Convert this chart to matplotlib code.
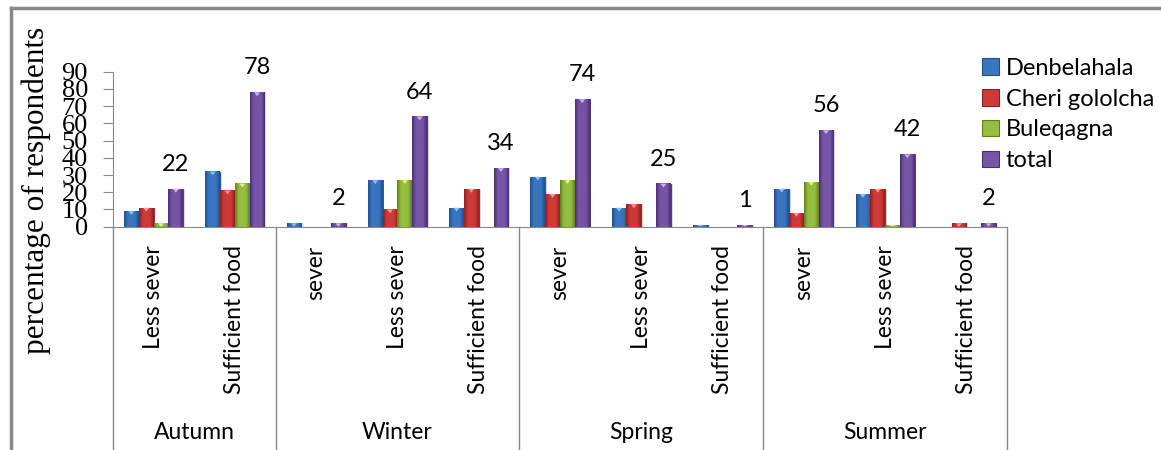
import numpy as np
import matplotlib
matplotlib.use("Agg")
import matplotlib.pyplot as plt
from matplotlib.colors import LinearSegmentedColormap
from matplotlib.patches import Polygon, Rectangle
from matplotlib.lines import Line2D

# ── Data ─────────────────────────────────────────────────────────────────────
seasons = ["Autumn", "Winter", "Spring", "Summer"]
season_sizes = [2, 3, 3, 3]
levels = ["Less sever", "Sufficient food",
          "sever", "Less sever", "Sufficient food",
          "sever", "Less sever", "Sufficient food",
          "sever", "Less sever", "Sufficient food"]

series_names = ["Denbelahala", "Cheri gololcha", "Buleqagna", "total"]
denbelahala = [9, 32, 2, 27, 11, 29, 11, 1, 22, 19, 0]
cheri_gololcha = [11, 21, 0, 10, 22, 19, 13, 0, 8, 22, 2]
buleqagna = [2, 25, 0, 27, 0, 27, 0, 0, 26, 1, 0]
total = [22, 78, 2, 64, 34, 74, 25, 1, 56, 42, 2]

# (dark edge, body, highlight)
palette = [
    ("#1d4f8f", "#3a75c0", "#8cc0f5"),
    ("#8c1f1f", "#cc3b39", "#f59a98"),
    ("#5d7f1e", "#95bd3f", "#e3f27a"),
    ("#4a2d72", "#7654a6", "#cfb0f2"),
]

SANS = "Lato"
SERIF = "Liberation Serif"

fig = plt.figure(figsize=(11.61, 4.5), dpi=100)
ax = fig.add_axes([0.0973, 0.4962, 0.7701, 0.3445])

x = np.arange(len(levels))
w = 0.182
values = [denbelahala, cheri_gololcha, buleqagna, total]

for i, (vals, cols) in enumerate(zip(values, palette)):
    dark, body, light = cols
    bars = ax.bar(x + (i - 1.5) * w, vals, w, color=body, edgecolor=dark,
                  linewidth=0.6, zorder=2, label=series_names[i])
    cmap = LinearSegmentedColormap.from_list(
        f"bevel{i}", [dark, body, body, body, dark])
    grad = np.linspace(0, 1, 64).reshape(1, -1)
    for b in bars:
        h = b.get_height()
        if h <= 0:
            continue
        x0, bw = b.get_x(), b.get_width()
        # soft shadow on the right side
        ax.add_patch(Rectangle((x0 + bw, 0), bw * 0.12, h, color="#bbbbbb",
                               alpha=0.6, lw=0, zorder=1.5))
        ax.imshow(grad, cmap=cmap, extent=[x0, x0 + bw, 0, h],
                  aspect="auto", zorder=2.1, interpolation="bicubic")
        # small light chevron at the top of each bar
        th = min(h, 2.2)
        tri = Polygon([[x0 + bw * 0.3, h], [x0 + bw * 0.7, h],
                       [x0 + bw * 0.5, h - th]], closed=True,
                      color=light, lw=0, zorder=2.2)
        ax.add_patch(tri)

# value labels above the total bars
for xi, v in zip(x, total):
    ax.annotate(f"{v}", (xi + 1.5 * w, v), xytext=(0, 10),
                textcoords="offset points", ha="center", va="bottom",
                fontsize=17, family=SANS)

ax.set_xlim(-0.5, len(levels) - 0.5)
ax.set_ylim(0, 90)
ax.set_yticks(range(0, 91, 10))
ax.set_yticklabels([str(t) for t in range(0, 91, 10)], family=SERIF,
                   fontsize=19)
ax.tick_params(axis="y", length=7, width=0.8, color="#888888", pad=11)
ax.set_xticks([])
for s in ["top", "right"]:
    ax.spines[s].set_visible(False)
ax.spines["left"].set_color("#888888")
ax.spines["bottom"].set_color("#888888")
ax.set_ylabel("percentage of respondents", family=SERIF, fontsize=22.5)
ax.yaxis.set_label_coords(-0.069, 0.234)

# multi-level category axis: dividers, sub labels, season labels
trans = ax.get_xaxis_transform()
edges = np.concatenate([[0], np.cumsum(season_sizes)]) - 0.5
for e in edges:
    ax.add_line(Line2D([e, e], [0, -1.6], transform=trans, color="#888888",
                       lw=1.0, clip_on=False))
for xi, lab in zip(x, levels):
    ax.text(xi, -0.12, lab, transform=trans, rotation=90, ha="center",
            va="top", fontsize=16.5, family=SANS)
for name, a, b in zip(seasons, edges[:-1], edges[1:]):
    ax.text((a + b) / 2, -1.325, name, transform=trans, ha="center",
            va="center", fontsize=16.5, family=SANS)

# legend
handles = [Rectangle((0, 0), 1, 1, facecolor=c[1], edgecolor=c[0], lw=0.8)
           for c in palette]
fig.legend(handles, series_names, loc="upper left",
           bbox_to_anchor=(0.846, 0.872), frameon=False,
           prop={"family": SANS, "size": 17}, handlelength=0.7,
           handleheight=0.7, handletextpad=0.3, labelspacing=0.42,
           borderpad=0, borderaxespad=0)

# chart frame
fig.add_artist(Line2D([11 / 1161, 11 / 1161], [0, 1 - 8 / 450],
                      transform=fig.transFigure, color="#888888", lw=2.5))
fig.add_artist(Line2D([11 / 1161, 1], [1 - 8 / 450, 1 - 8 / 450],
                      transform=fig.transFigure, color="#888888", lw=2.5))

fig.savefig("out.png", dpi=100)
